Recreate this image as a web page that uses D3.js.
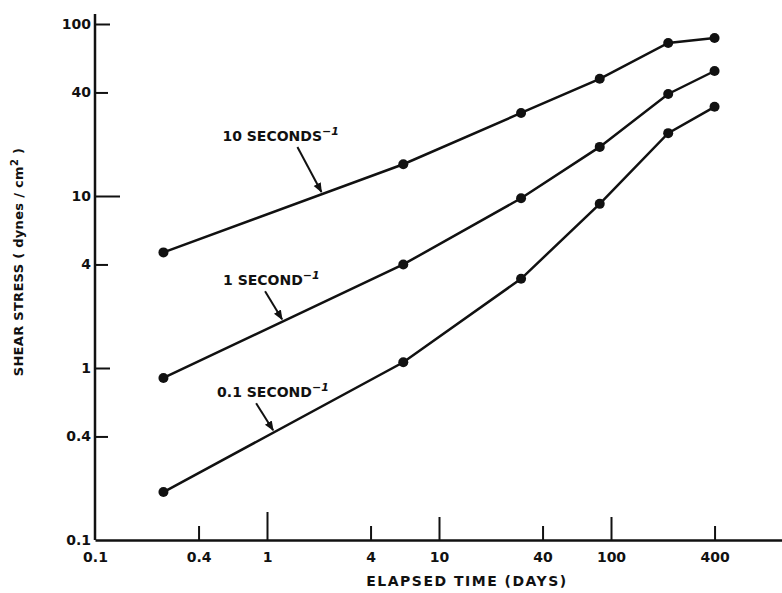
<!DOCTYPE html>
<html>
<head>
<meta charset="utf-8">
<script src="https://cdn.jsdelivr.net/npm/d3@7"></script>
<style>
  body { margin: 0; background: #fff; }
  svg { display: block; }
  text { font-family: "DejaVu Sans", sans-serif; font-weight: bold; fill: #111; }
</style>
</head>
<body>
<svg id="chart" width="782" height="593"></svg>
<script>
// elapsed time (days) for every series
var days = [0.25, 6.2, 30, 86, 215, 400];
// shear stress (dynes/cm2) at each shear rate
var rate10 = [4.7, 15.3, 30.4, 48, 77.6, 83];
var rate1 = [0.875, 4.0, 9.7, 19.3, 39.2, 53.3];
var rate01 = [0.19, 1.08, 3.3, 9.0, 23.2, 33];
var seriesNames = ["10 SECONDS", "1 SECOND", "0.1 SECOND"];
// where the arrow of each label hits its line (days)
var arrowAt = [2.1, 1.24, 1.1];

var xTicks = [0.1, 0.4, 1, 4, 10, 40, 100, 400];
var yTicks = [0.1, 0.4, 1, 4, 10, 40, 100];

var svg = d3.select("#chart");
var x = d3.scaleLog().domain([0.1, 1000]).range([95, 783]);
var y = d3.scaleLog().domain([0.1, 100]).range([540, 24]);

function fmt(d) { return d < 1 ? String(d) : d3.format("d")(d); }

// x axis, ticks point up into the plot
var xAxis = svg.append("g")
    .attr("transform", "translate(0," + y(0.1) + ")")
    .call(d3.axisBottom(x).tickValues(xTicks).tickFormat(fmt).tickSizeOuter(0));
xAxis.select(".domain").attr("stroke", "#111").attr("stroke-width", 2.5);
xAxis.selectAll(".tick line")
    .attr("stroke", "#111").attr("stroke-width", 2)
    .attr("y2", function (d) { return d == 0.1 ? 0 : d == 1 ? -28 : (d == 10 || d == 100) ? -23 : -14; });
xAxis.selectAll(".tick text")
    .attr("y", 12).attr("dy", "0.71em")
    .style("font-size", "14px").style("font-family", "DejaVu Sans").style("font-weight", "bold");

// y axis, ticks point right into the plot
var yAxis = svg.append("g")
    .attr("transform", "translate(" + x(0.1) + ",0)")
    .call(d3.axisLeft(y).tickValues(yTicks).tickFormat(fmt).tickSizeOuter(0));
yAxis.select(".domain").attr("stroke", "#111").attr("stroke-width", 2.5)
    .attr("d", "M0," + y(0.1) + "V" + (y(100) - 10));
yAxis.selectAll(".tick line")
    .attr("stroke", "#111").attr("stroke-width", 2)
    .attr("x2", function (d) { return d == 0.1 ? 0 : d == 10 ? 25 : (d == 1 || d == 100) ? 15 : 13; });
yAxis.selectAll(".tick text")
    .attr("x", -4)
    .style("font-size", "14px").style("font-family", "DejaVu Sans").style("font-weight", "bold");

// axis titles
svg.append("text")
    .attr("x", 467).attr("y", 586)
    .attr("text-anchor", "middle")
    .style("font-size", "14px").style("letter-spacing", "1.5px")
    .text("ELAPSED TIME (DAYS)");

var yt = svg.append("text")
    .attr("transform", "translate(23,262) rotate(-90)")
    .attr("text-anchor", "middle")
    .style("font-size", "13px").style("letter-spacing", "0.3px");
yt.append("tspan").text("SHEAR STRESS ( dynes / cm");
yt.append("tspan").attr("dy", -5).style("font-size", "10px").text("2");
yt.append("tspan").attr("dy", 5).text(" )");

// series lines and points
var allSeries = [rate10, rate1, rate01];
var line = d3.line()
    .x(function (d, i) { return x(days[i]); })
    .y(function (d) { return y(d); });

allSeries.forEach(function (vals) {
    svg.append("path")
        .attr("d", line(vals))
        .attr("fill", "none").attr("stroke", "#111").attr("stroke-width", 2.5);
    svg.selectAll(null).data(vals).enter().append("circle")
        .attr("cx", function (d, i) { return x(days[i]); })
        .attr("cy", function (d) { return y(d); })
        .attr("r", 5)
        .attr("fill", "#111");
});

// value of a series at a given day, interpolated on the log-log line
function valueAt(vals, t) {
    for (var i = 0; i < days.length - 1; i++) {
        if (t >= days[i] && t <= days[i + 1]) {
            var f = (Math.log(t) - Math.log(days[i])) / (Math.log(days[i + 1]) - Math.log(days[i]));
            return Math.exp(Math.log(vals[i]) + f * (Math.log(vals[i + 1]) - Math.log(vals[i])));
        }
    }
    return vals[0];
}

svg.append("defs").append("marker")
    .attr("id", "arrow").attr("viewBox", "0 0 10 10")
    .attr("refX", 9).attr("refY", 5)
    .attr("markerWidth", 5).attr("markerHeight", 5)
    .attr("orient", "auto")
  .append("path").attr("d", "M0,1L10,5L0,9Z").attr("fill", "#111");

// labels with arrows
var labelOffset = [[-25, -47, -100], [-18, -30, -60], [-18, -29, -57]];
allSeries.forEach(function (vals, k) {
    var tx = x(arrowAt[k]), ty = y(valueAt(vals, arrowAt[k]));
    var o = labelOffset[k];
    svg.append("line")
        .attr("x1", tx + o[0]).attr("y1", ty + o[1])
        .attr("x2", tx - 1).attr("y2", ty - 2)
        .attr("stroke", "#111").attr("stroke-width", 2)
        .attr("marker-end", "url(#arrow)");
    var t = svg.append("text")
        .attr("x", tx + o[2]).attr("y", ty + o[1] - 6)
        .style("font-size", "14px");
    t.append("tspan").text(seriesNames[k]);
    t.append("tspan").attr("dy", -6).style("font-size", "11px").text("\u2212");
    t.append("tspan").style("font-size", "11px").style("font-style", "italic").text("1");
});
</script>
</body>
</html>
